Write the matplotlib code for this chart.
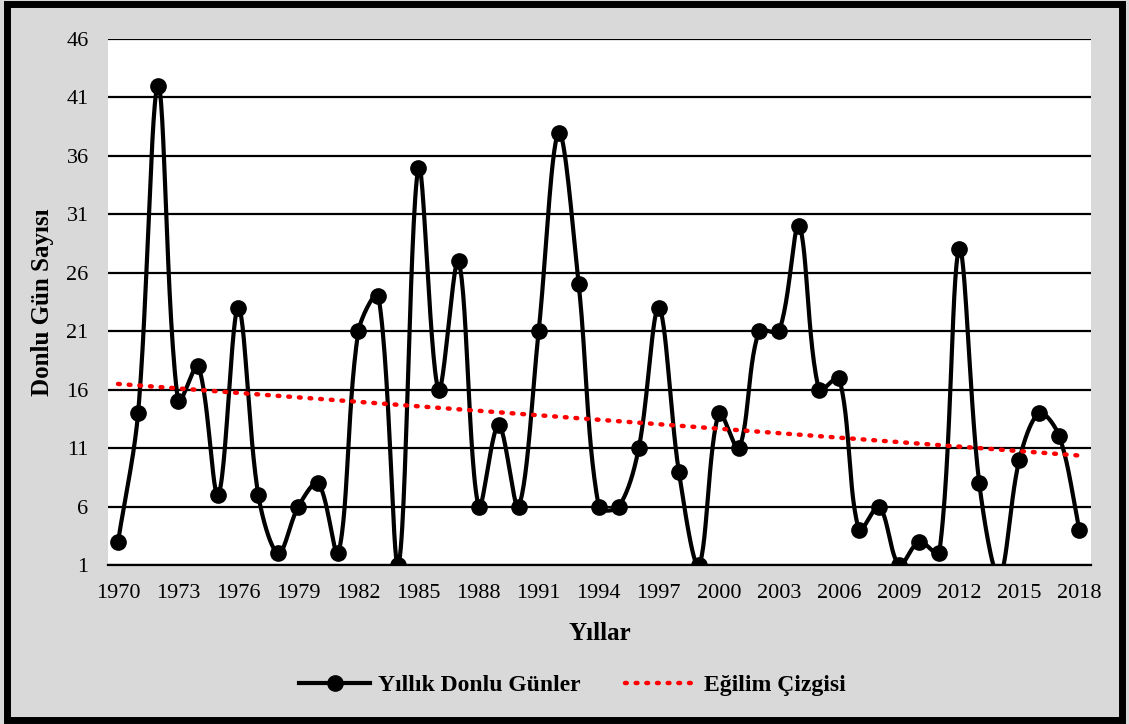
import numpy as np
import matplotlib.pyplot as plt
from matplotlib.patches import Rectangle
from matplotlib.lines import Line2D

years = list(range(1970, 2019))
frost_days = [3, 14, 42, 15, 18, 7, 23, 7, 2, 6, 8, 2, 21, 24, 1, 35, 16, 27, 6, 13,
              6, 21, 38, 25, 6, 6, 11, 23, 9, 1, 14, 11, 21, 21, 30, 16, 17, 4, 6, 1,
              3, 2, 28, 8, 0, 10, 14, 12, 4]
tick_years = list(range(1970, 2019, 3))
y_ticks = [1, 6, 11, 16, 21, 26, 31, 36, 41, 46]


def smooth(x, y, sx=20.0, sy=11.7, n=30):
    # Excel-like smoothed line: Bezier with tangents weighted by segment length (pixel space)
    x = np.asarray(x, float) * sx
    y = np.asarray(y, float) * sy
    P = np.column_stack([x, y])
    m = len(P)
    d = np.hypot(np.diff(x), np.diff(y))
    xs, ys = [], []
    t = np.linspace(0, 1, n)[:, None]
    for i in range(m - 1):
        p0, p3 = P[i], P[i + 1]
        if i > 0:
            T = P[i + 1] - P[i - 1]
            c1 = p0 + T * d[i] / (d[i - 1] + d[i]) / 3
        else:
            c1 = p0 + (P[i + 1] - P[i]) / 3
        if i + 2 < m:
            T = P[i + 2] - P[i]
            c2 = p3 - T * d[i] / (d[i] + d[i + 1]) / 3
        else:
            c2 = p3 - (P[i + 1] - P[i]) / 3
        b = (1 - t) ** 3 * p0 + 3 * (1 - t) ** 2 * t * c1 + 3 * (1 - t) * t ** 2 * c2 + t ** 3 * p3
        xs.extend(b[:, 0] / sx)
        ys.extend(b[:, 1] / sy)
    return np.array(xs), np.array(ys)


def main():
    plt.rcParams['font.family'] = ['Liberation Serif', 'DejaVu Serif']
    fig = plt.figure(figsize=(11.29, 7.24), dpi=100, facecolor='#d9d9d9')
    ax = fig.add_axes([0.0957, 0.2196, 0.871, 0.7265])
    ax.set_facecolor('white')

    sx, sy = smooth(years, frost_days)
    ax.plot(sx, sy, color='black', lw=3.0, zorder=3)
    ax.plot(years, frost_days, 'o', color='black', ms=11, zorder=4)

    coef = np.polyfit(years, frost_days, 1)
    trend = np.polyval(coef, years)
    ax.plot(years, trend, color='red', lw=3.2, linestyle=(0, (0.4, 2.0)),
            dash_capstyle='round', zorder=5)

    ax.set_xlim(1969.5, 2018.6)
    ax.set_ylim(1, 46)
    ax.set_yticks(y_ticks)
    ax.set_xticks(tick_years)
    ax.tick_params(axis='x', length=0, labelsize=16, pad=14)
    ax.tick_params(axis='y', length=0, labelsize=16, pad=14)
    ax.yaxis.grid(True, color='black', lw=1.6)
    ax.set_axisbelow(True)
    for s in ['top', 'right', 'left']:
        ax.spines[s].set_visible(False)
    ax.spines['bottom'].set_linewidth(1.6)
    ax.set_xlabel('Yıllar', fontsize=18, fontweight='bold', labelpad=13)
    ax.set_ylabel('Donlu Gün Sayısı', fontsize=18, fontweight='bold', labelpad=9)

    handles = [
        Line2D([], [], color='black', lw=3.0, marker='o', ms=11),
        Line2D([], [], color='red', lw=3.2, linestyle=(0, (0.4, 2.0)), dash_capstyle='round'),
    ]
    prop = {'weight': 'bold', 'size': 17}
    fig.legend(handles, ['Yıllık Donlu Günler', 'Eğilim Çizgisi'], loc='center',
               bbox_to_anchor=(0.507, 0.053), ncol=2, frameon=False, prop=prop,
               handlelength=3.0, handletextpad=0.33, columnspacing=1.9)

    fig.patches.append(Rectangle((0.006, 0.006), 0.988, 0.988, transform=fig.transFigure,
                                 fill=False, edgecolor='black', lw=5))
    fig.savefig('out.png', dpi=100, facecolor=fig.get_facecolor())


if __name__ == "__main__":
    main()
